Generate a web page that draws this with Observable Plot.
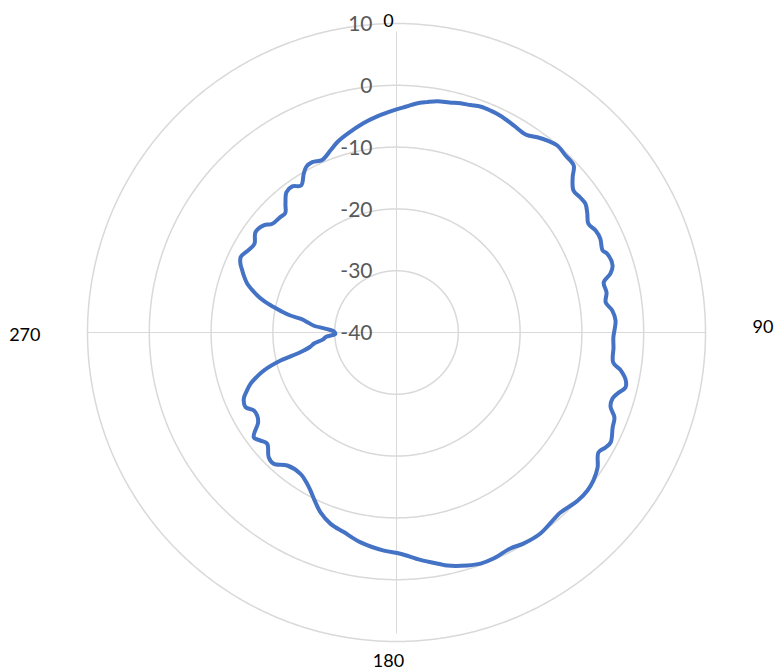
<!DOCTYPE html>
<html>
<head>
<meta charset="utf-8">
<script src="https://cdn.jsdelivr.net/npm/d3@7"></script>
<script src="https://cdn.jsdelivr.net/npm/@observablehq/plot@0.6"></script>
<style>
  html, body { margin: 0; padding: 0; background: #ffffff; }
  #chart svg { display: block; }
</style>
</head>
<body>
<div id="chart"></div>
<script>
// Angle in degrees, clockwise from the top (0 = up, 90 = right)
const angles = [
  0, 2.5, 5, 7.5, 10, 13, 15.6, 18, 20.5, 23, 25.6, 29.5, 32.2, 33.5, 36, 38.2, 40.7, 43.7, 46.7, 48.6,
  51.3, 53.7, 55.7, 58, 60.4, 62.9, 65.3, 68.3, 69.5, 72.8, 74.6, 76.4, 79.2, 81.8, 84.2, 86.9, 91.3, 94, 97.9, 99.6,
  101.8, 103.5, 105.4, 107, 109.1, 111.3, 113.7, 117.2, 118.8, 120.7, 123.9, 126.9, 129.6, 132.9, 137.7, 140.3, 144.4, 149, 152.2, 156.8,
  160, 163.1, 167.7, 169.5, 174, 179, 183.3, 189.7, 194.8, 199, 202.9, 205.5, 208.6, 210.5, 214.2, 219.4, 223.1, 225.7, 229.3, 231.5,
  233.7, 237, 239.2, 241.3, 243.7, 246.5, 248.5, 250.6, 252.3, 254, 256.4, 258.4, 260.5, 262.5, 264.5, 266.5, 268.8, 271.2, 273, 274.8,
  276.6, 278, 279.1, 280.5, 281.7, 283.3, 284.9, 286.5, 288.1, 290, 291.9, 293.8, 295.8, 299.2, 302, 305.4, 308.9, 311.2, 314.8, 317,
  319.2, 321.9, 324.5, 327, 329.7, 331.5, 333.7, 336.7, 340.1, 342.7, 346.1, 351.1, 354.9, 357.5
];
// Level in dB at each angle
const values = [
  -3.9, -3.4, -2.8, -2.4, -2.0, -1.8, -1.5, -1.3, -1.0, -1.0, -1.1, -1.5, -1.75, -1.7, -1.0, -0.5, -0.1, -0.4, -0.6, -2.0,
  -3.3, -3.1, -3.0, -3.6, -4.3, -3.8, -3.7, -4.1, -3.6, -3.4, -4.1, -5.5, -5.4, -5.8, -4.9, -4.5, -4.9, -4.8, -4.6, -3.2,
  -2.1, -1.9, -2.9, -3.45, -3.35, -2.15, -1.8, -1.05, -1.4, -2.0, -0.8, -0.15, 0.1, 0.0, -0.6, -0.45, 0.0, -0.15, -0.5, -0.2,
  -0.2, -0.6, -1.4, -1.9, -3.0, -4.2, -4.65, -5.55, -6.6, -7.25, -8.4, -9.55, -10.9, -11.55, -12.35, -12.15, -10.9, -11.1, -12.4, -11.9,
  -11.35, -13.3, -13.75, -13.7, -12.75, -13.05, -13.9, -14.95, -16.2, -17.65, -20.7, -24.1, -25.8, -26.6, -28.0, -28.6, -30.1, -29.8, -28.6, -26.5,
  -25.5, -24.5, -22.6, -21.0, -19.7, -18.0, -16.7, -15.6, -14.6, -13.8, -13.1, -12.4, -12.0, -12.6, -12.9, -12.0, -12.4, -13.3, -13.5, -13.6,
  -12.5, -11.15, -10.95, -11.65, -10.25, -9.45, -9.25, -9.6, -8.65, -7.75, -6.9, -5.7, -4.9, -4.4
];
const radialTicks = [10, 0, -10, -20, -30, -40];
const angleTicks = [0, 90, 180, 270];
const angleLabels = ["0", "90", "180", "270"];

const rMin = -40, rMax = 10;
// map polar (angle clockwise from top, value) onto lon/lat of a north-pole centred azimuthal projection
const lon = (theta) => 180 - theta;
const lat = (v) => 90 - (v - rMin);
const cap = (radius) => d3.geoCircle().center([0, 90]).radius(radius).precision(0.5)();

const curveData = angles.map((a, i) => ({angle: a, value: values[i]}));
const ringValues = radialTicks.filter((v) => v > rMin);
const angleData = angleTicks.map((a, i) => ({angle: a, label: angleLabels[i]}));

const labelMark = (angle, opts) =>
  Plot.text(angleData.filter((d) => d.angle === angle), {
    x: (d) => lon(d.angle), y: () => lat(rMax), text: "label",
    fontSize: 18, fill: "#000000", lineAnchor: "middle", ...opts
  });

const chart = Plot.plot({
  width: 781,
  height: 672,
  marginLeft: 87, marginRight: 76, marginTop: 23, marginBottom: 31,
  projection: {
    type: "azimuthal-equidistant",
    rotate: [0, -90],
    domain: cap(rMax - rMin)
  },
  style: {fontFamily: "Lato, 'Open Sans', sans-serif", background: "#ffffff"},
  marks: [
    Plot.geo(ringValues, {geometry: (v) => cap(v - rMin), fill: "none", stroke: "#d9d9d9", strokeWidth: 1.5}),
    Plot.link([90, 270], {x1: (a) => lon(a), y1: () => 90, x2: (a) => lon(a), y2: () => 90 - (rMax - rMin) - 4.2, stroke: "#d9d9d9", strokeWidth: 1}),
    Plot.link([0, 180], {x1: (a) => lon(a), y1: () => 90, x2: (a) => lon(a), y2: () => 90 - (rMax - rMin) + 1.3, stroke: "#d9d9d9", strokeWidth: 1}),
    Plot.line(curveData, {
      x: (d) => lon(d.angle), y: (d) => lat(d.value),
      curve: "catmull-rom-closed", stroke: "#4472c4", strokeWidth: 4, strokeLinejoin: "round"
    }),
    Plot.text(radialTicks, {
      x: () => lon(0), y: (v) => lat(v), text: (v) => String(v),
      textAnchor: "end", lineAnchor: "middle", dx: -24, dy: 1, fontSize: 21, fill: "#595959"
    }),
    labelMark(0, {textAnchor: "middle", dx: -8, dy: -2}),
    labelMark(90, {textAnchor: "start", dx: 47, dy: -5}),
    labelMark(180, {textAnchor: "middle", dx: -8, dy: 20}),
    labelMark(270, {textAnchor: "end", dx: -47, dy: 3})
  ]
});
document.getElementById("chart").append(chart);
</script>
</body>
</html>
